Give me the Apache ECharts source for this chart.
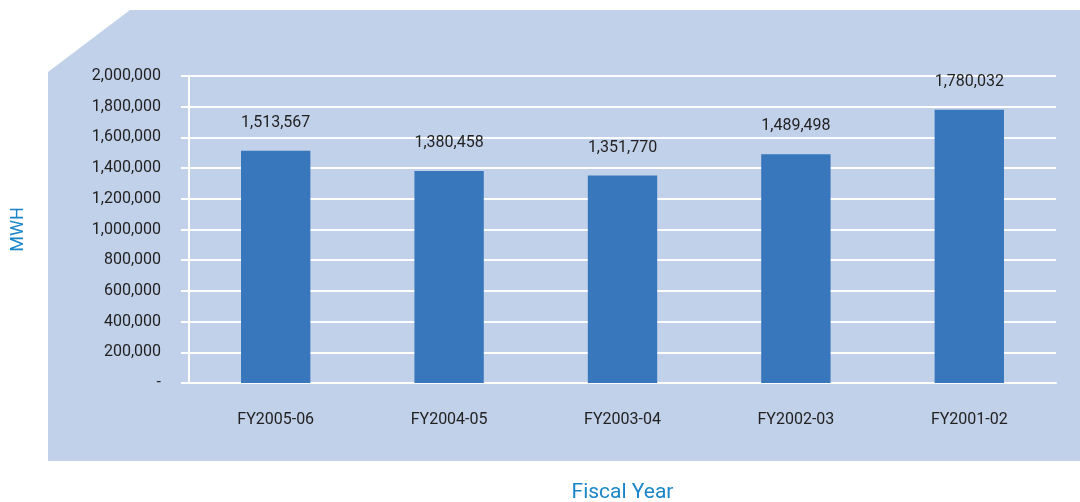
<!DOCTYPE html>
<html>
<head>
<meta charset="utf-8">
<script src="https://cdn.jsdelivr.net/npm/echarts@6/dist/echarts.min.js"></script>
<style>
  html, body { margin: 0; padding: 0; background: #fff; }
  #chart { width: 1080px; height: 502px; }
</style>
</head>
<body>
<div id="chart"></div>
<script>
const years = ["FY2005-06", "FY2004-05", "FY2003-04", "FY2002-03", "FY2001-02"];
const mwh = [1513567, 1380458, 1351770, 1489498, 1780032];
const yTicks = [0, 2000000, 200000]; // min, max, step

const font = "Roboto, sans-serif";
const fmt = (v) => v.toLocaleString("en-US");

let myChart = echarts.init(document.getElementById("chart"));
let option = {
  animation: false,
  graphic: [
    {
      type: "polygon",
      z: -10,
      shape: { points: [[48, 72], [130, 10], [1080, 10], [1080, 461], [48, 461]] },
      style: { fill: "#c2d1ea" },
    },
  ],
  grid: { left: 189, right: 24, top: 76, bottom: 119, outerBoundsMode: "none" },
  xAxis: {
    type: "category",
    data: years,
    name: "Fiscal Year",
    nameLocation: "middle",
    nameGap: 99,
    nameTextStyle: { color: "#1a86c8", fontSize: 21, fontFamily: font },
    axisLine: { lineStyle: { color: "#fff", width: 2 } },
    axisTick: { show: false },
    axisLabel: { color: "#222", fontSize: 16, fontFamily: font, margin: 29 },
  },
  yAxis: {
    type: "value",
    min: yTicks[0],
    max: yTicks[1],
    interval: yTicks[2],
    name: "MWH",
    nameLocation: "middle",
    nameGap: 162,
    nameTextStyle: { color: "#1a86c8", fontSize: 18, fontFamily: font },
    axisLine: { show: true, lineStyle: { color: "#fff", width: 2 } },
    axisTick: { show: true, length: 8, lineStyle: { color: "#fff", width: 2 } },
    splitLine: { lineStyle: { color: "#fff", width: 2 } },
    axisLabel: {
      color: "#222",
      fontSize: 16,
      fontFamily: font,
      margin: 28,
      formatter: (v) => (v === 0 ? "-" : fmt(v)),
    },
  },
  series: [
    {
      type: "bar",
      data: mwh,
      barWidth: "40%",
      itemStyle: { color: "#3877bc" },
      label: {
        show: true,
        position: "top",
        distance: 20,
        color: "#222",
        fontSize: 16,
        fontFamily: font,
        formatter: (p) => fmt(p.value),
      },
    },
  ],
};
myChart.setOption(option);
</script>
</body>
</html>
